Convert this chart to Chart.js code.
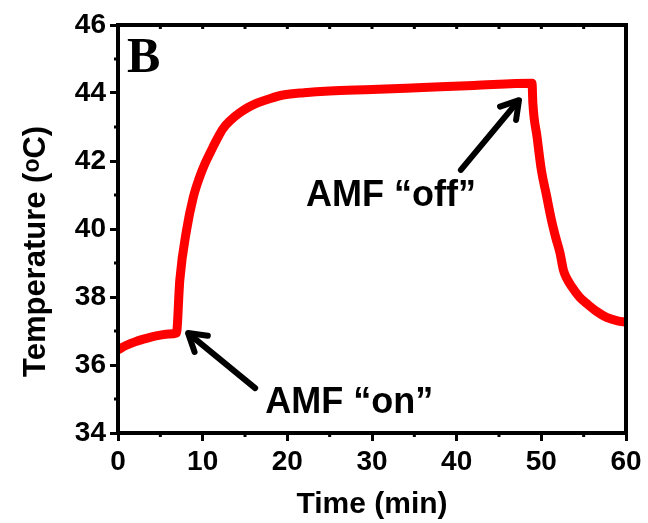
<!DOCTYPE html>
<html lang="en">
<head>
  <meta charset="UTF-8">
  <title>Temperature vs Time</title>
  <script src="https://cdn.jsdelivr.net/npm/chart.js"></script>
  <style>
    html, body { margin: 0; padding: 0; background: #fff; }
    #wrap { width: 648px; height: 523px; position: relative; }
  </style>
</head>
<body>
<div id="wrap"><canvas id="tempChart"></canvas></div>

<script>
  // time (min) and temperature (oC)
  const times = [0, 1, 2, 3, 4, 5, 6, 6.9,
                 7.3, 8.1, 8.9, 9.6, 10.3, 11.0, 11.6, 12.4, 13.3, 14.4, 15.4, 16.4, 18, 19.5, 22, 25, 30, 36, 42, 48.9,
                 49.0, 49.5, 50.0, 50.6, 51.2, 51.7, 52.2, 52.6, 53.0, 53.6, 54.5, 55.4, 56.5, 57.7, 59, 60];
  const temps = [36.45, 36.58, 36.68, 36.76, 36.83, 36.88, 36.91, 36.94,
                 38.5, 39.97, 40.94, 41.5, 41.94, 42.3, 42.6, 42.95, 43.2, 43.42, 43.58, 43.7, 43.84, 43.94, 44.01, 44.06, 44.1, 44.16, 44.22, 44.29,
                 43.7, 42.7, 41.74, 41.0, 40.26, 39.75, 39.3, 38.8, 38.55, 38.3, 38.0, 37.8, 37.58, 37.4, 37.3, 37.26];

  const xTickValues = [0, 10, 20, 30, 40, 50, 60];
  const xMinorValues = [5, 15, 25, 35, 45, 55];
  const yTickValues = [34, 36, 38, 40, 42, 44, 46];
  const yMinorValues = [35, 37, 39, 41, 43, 45];

  // annotations, anchored in data units (time, temperature)
  const labels = [
    { text: 'AMF \u201Con\u201D', t: 17.4, v: 34.59 },
    { text: 'AMF \u201Coff\u201D', t: 22.2, v: 40.68 }
  ];
  const arrows = [
    { from: [16.2, 35.32], to: [8.27, 36.94] },
    { from: [40.5, 41.74], to: [47.36, 43.79] }
  ];

  const FONT = '"Liberation Sans", Arial, sans-serif';

  const decor = {
    id: 'decor',
    afterDraw(chart) {
      const ctx = chart.ctx;
      const a = chart.chartArea;
      const xs = chart.scales.x, ys = chart.scales.y;
      ctx.save();

      // frame
      ctx.strokeStyle = '#000';
      ctx.lineWidth = 4;
      ctx.strokeRect(a.left, a.top, a.right - a.left, a.bottom - a.top);

      // minor ticks
      ctx.lineWidth = 3;
      ctx.beginPath();
      yMinorValues.forEach(v => {
        const y = ys.getPixelForValue(v);
        ctx.moveTo(a.left - 4, y); ctx.lineTo(a.left, y);
      });
      xMinorValues.forEach(v => {
        const x = xs.getPixelForValue(v);
        ctx.moveTo(x, a.bottom); ctx.lineTo(x, a.bottom + 4);
      });
      xMinorValues.concat(xTickValues.slice(1, -1)).forEach(v => {
        const x = xs.getPixelForValue(v);
        ctx.moveTo(x, a.top); ctx.lineTo(x, a.top + 4);
      });
      ctx.stroke();

      // arrows
      ctx.lineWidth = 6;
      ctx.lineCap = 'round';
      ctx.lineJoin = 'round';
      arrows.forEach(ar => {
        const x0 = xs.getPixelForValue(ar.from[0]), y0 = ys.getPixelForValue(ar.from[1]);
        const x1 = xs.getPixelForValue(ar.to[0]), y1 = ys.getPixelForValue(ar.to[1]);
        const ang = Math.atan2(y1 - y0, x1 - x0);
        ctx.beginPath();
        ctx.moveTo(x0, y0); ctx.lineTo(x1 - 2 * Math.cos(ang), y1 - 2 * Math.sin(ang));
        ctx.stroke();
        const hl = 20, sp = 0.55;
        ctx.beginPath();
        ctx.moveTo(x1 - hl * Math.cos(ang - sp), y1 - hl * Math.sin(ang - sp));
        ctx.lineTo(x1, y1);
        ctx.lineTo(x1 - hl * Math.cos(ang + sp), y1 - hl * Math.sin(ang + sp));
        ctx.stroke();
      });

      // text labels
      ctx.fillStyle = '#000';
      ctx.textBaseline = 'alphabetic';
      ctx.textAlign = 'left';
      ctx.font = 'bold 36px ' + FONT;
      labels.forEach(l => {
        ctx.fillText(l.text, xs.getPixelForValue(l.t), ys.getPixelForValue(l.v));
      });

      // panel letter
      ctx.font = 'bold 50px "Liberation Serif", "Times New Roman", serif';
      ctx.fillText('B', xs.getPixelForValue(1.06), ys.getPixelForValue(44.62));

      // y axis title with raised "o"
      ctx.translate(45, 377);
      ctx.rotate(-Math.PI / 2);
      ctx.font = 'bold 31px ' + FONT;
      const part1 = 'Temperature (';
      ctx.fillText(part1, 0, 0);
      let w = ctx.measureText(part1).width;
      ctx.font = 'bold 23px ' + FONT;
      ctx.fillText('o', w, -6);
      w += ctx.measureText('o').width;
      ctx.font = 'bold 31px ' + FONT;
      ctx.fillText('C)', w, 0);

      ctx.restore();
    }
  };

  new Chart(document.getElementById('tempChart'), {
    type: 'line',
    data: {
      datasets: [{
        data: times.map((t, i) => ({ x: t, y: temps[i] })),
        borderColor: '#ff0000',
        borderWidth: 9,
        borderJoinStyle: 'round',
        pointRadius: 0,
        cubicInterpolationMode: 'monotone',
        fill: false,
        clip: 6
      }]
    },
    options: {
      responsive: true,
      maintainAspectRatio: false,
      animation: false,
      layout: { padding: { left: 0, right: 22, top: 25, bottom: 0 } },
      plugins: { legend: { display: false }, tooltip: { enabled: false } },
      scales: {
        x: {
          type: 'linear',
          min: 0, max: 60,
          afterBuildTicks: s => { s.ticks = xTickValues.map(v => ({ value: v })); },
          afterFit: s => { s.height = 90; },
          grid: { drawOnChartArea: false, tickLength: 8, tickWidth: 3, tickColor: '#000' },
          border: { display: false },
          ticks: { color: '#000', padding: 4, maxRotation: 0, font: { family: FONT, size: 28, weight: 'bold' } },
          title: { display: true, text: 'Time (min)', color: '#000', padding: { top: 2, bottom: 0 },
                   font: { family: FONT, size: 30, weight: 'bold' } }
        },
        y: {
          min: 34, max: 46,
          afterBuildTicks: s => { s.ticks = yTickValues.map(v => ({ value: v })); },
          afterFit: s => { s.width = 118; },
          grid: { drawOnChartArea: false, tickLength: 8, tickWidth: 3, tickColor: '#000' },
          border: { display: false },
          ticks: { color: '#000', padding: 4, font: { family: FONT, size: 28, weight: 'bold' } }
        }
      }
    },
    plugins: [decor]
  });
</script>
</body>
</html>
